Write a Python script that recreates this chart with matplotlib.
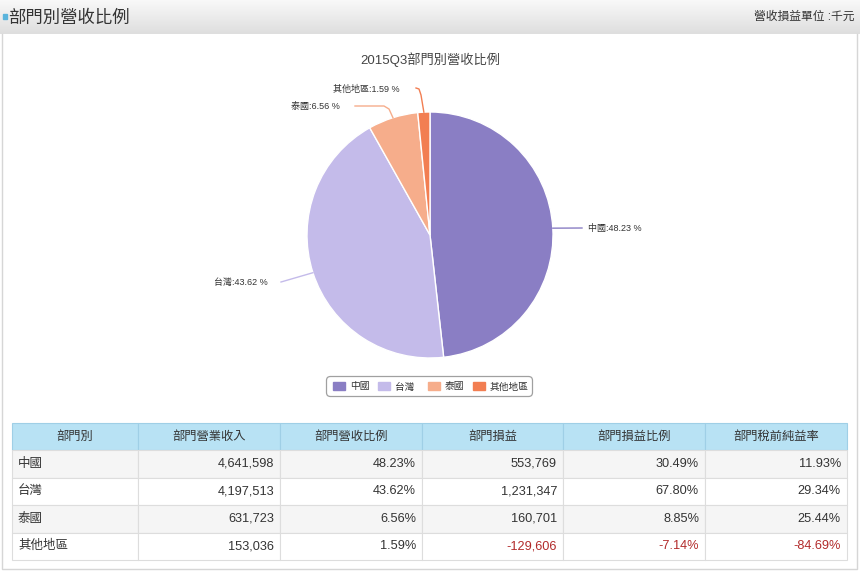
import numpy as np
import matplotlib
matplotlib.use("Agg")
import matplotlib.pyplot as plt
from matplotlib.patches import Rectangle, FancyBboxPatch

plt.rcParams['font.family'] = ['Liberation Sans', 'Noto Sans CJK TC', 'DejaVu Sans']

# ---------------- data ----------------
segments = ['中國', '台灣', '泰國', '其他地區']
revenue = [4641598, 4197513, 631723, 153036]
revenue_pct = [48.23, 43.62, 6.56, 1.59]
profit = [553769, 1231347, 160701, -129606]
profit_pct = [30.49, 67.80, 8.85, -7.14]
pretax_margin = [11.93, 29.34, 25.44, -84.69]
headers = ['部門別', '部門營業收入', '部門營收比例', '部門損益', '部門損益比例', '部門稅前純益率']
page_title = '部門別營收比例'
unit_text = '營收損益單位 :千元'
chart_title = '2015Q3部門別營收比例'

# ---------------- style ----------------
colors = ['#8a7ec4', '#c4bbea', '#f6ad8b', '#f27e52']
W, H = 860, 572
fig = plt.figure(figsize=(W / 100, H / 100), dpi=100)
bg = fig.add_axes([0, 0, 1, 1])
bg.set_xlim(0, W)
bg.set_ylim(H, 0)
bg.axis('off')

# header bar with gradient
grad = np.linspace(0, 1, 64).reshape(-1, 1)
top = np.array([0.975, 0.975, 0.975])
bot = np.array([0.87, 0.87, 0.87])
img = top + (bot - top) * grad[..., None]
bg.imshow(np.repeat(img, 2, axis=1), extent=[0, W, 34, 0], aspect='auto', zorder=0)
bg.add_patch(Rectangle((3, 14), 4, 5, color='#5ab4dc', zorder=2))
bg.text(8.5, 17.5, page_title, fontsize=12.5, color='#333333', va='center', ha='left', zorder=3)
bg.text(855, 16.5, unit_text, fontsize=8.5, color='#333333', va='center', ha='right', zorder=3)

# outer panel border
bg.plot([2, 2, 857, 857], [34, 568.5, 568.5, 34], color='#d6d6d6', lw=1, zorder=1)

# chart title
bg.text(430, 60, chart_title, fontsize=9.5, color='#444444', ha='center', va='center')

# ---------------- pie ----------------
cx, cy, r = 430, 235, 123
pax = fig.add_axes([(cx - r) / W, (H - cy - r) / H, 2 * r / W, 2 * r / H])
wedges, _ = pax.pie(revenue_pct, colors=colors, startangle=90, counterclock=False,
                    radius=1, wedgeprops=dict(edgecolor='white', linewidth=1))
pax.set_xlim(-1, 1)
pax.set_ylim(-1, 1)
pax.set_aspect('equal')
pax.axis('off')

def to_data(px, py):
    return ((px - cx) / r, (cy - py) / r)

# label anchor (pixel) and connector elbow points (pixel), per slice
label_pos = [(588, 228, 'left'), (268, 282, 'right'), (340, 106, 'right'), (400, 89, 'right')]
elbows = [
    [(582, 228)],
    [(281, 282)],
    [(355, 106), (384, 106), (389, 109)],
    [(416, 88), (419, 89), (421, 95)],
]
for i, w in enumerate(wedges):
    mid = np.deg2rad((w.theta1 + w.theta2) / 2)
    ex, ey = np.cos(mid), np.sin(mid)
    pts = [to_data(*p) for p in elbows[i]] + [(ex, ey)]
    xs, ys = zip(*pts)
    pax.plot(xs, ys, color=colors[i], lw=1, clip_on=False, zorder=1)
    lx, ly, ha = label_pos[i]
    bg.text(lx, ly, f'{segments[i]}:{revenue_pct[i]:.2f} %', fontsize=6.5,
            color='#333333', ha=ha, va='center')

# ---------------- legend ----------------
bg.add_patch(FancyBboxPatch((326.5, 376.5), 206, 20, boxstyle='round,pad=0,rounding_size=4',
                            fc='white', ec='#a0a0a0', lw=0.9))
sq_x = [333, 378, 428, 473]
for i, name in enumerate(segments):
    bg.add_patch(Rectangle((sq_x[i], 382), 12, 8, color=colors[i]))
    bg.text(sq_x[i] + 17, 386.5, name, fontsize=7, color='#333333', ha='left', va='center')

# ---------------- table ----------------
col_edges = [12, 138, 280, 422, 563, 705, 847]
row_edges = [423, 450, 477.5, 505, 532.5, 560]
hdr_bg = '#b8e2f4'
hdr_line = '#9fcfe6'
line_c = '#dddddd'
for j, h in enumerate(headers):
    x0, x1 = col_edges[j], col_edges[j + 1]
    bg.add_patch(Rectangle((x0, row_edges[0]), x1 - x0, row_edges[1] - row_edges[0],
                           fc=hdr_bg, ec=hdr_line, lw=0.8))
    bg.text((x0 + x1) / 2, (row_edges[0] + row_edges[1]) / 2, h, fontsize=8.8,
            color='#333333', ha='center', va='center')

def fmt_int(v):
    return f'{v:,}'

def fmt_pct(v):
    return f'{v:.2f}%'

for i, name in enumerate(segments):
    y0, y1 = row_edges[i + 1], row_edges[i + 2]
    fc = '#f5f5f5' if i % 2 == 0 else 'white'
    for j in range(6):
        x0, x1 = col_edges[j], col_edges[j + 1]
        bg.add_patch(Rectangle((x0, y0), x1 - x0, y1 - y0, fc=fc, ec=line_c, lw=0.8))
    yc = (y0 + y1) / 2
    cells = [fmt_int(revenue[i]), fmt_pct(revenue_pct[i]), fmt_int(profit[i]),
             fmt_pct(profit_pct[i]), fmt_pct(pretax_margin[i])]
    neg = [False, False, profit[i] < 0, profit_pct[i] < 0, pretax_margin[i] < 0]
    bg.text(col_edges[0] + 6, yc, name, fontsize=9, color='#333333', ha='left', va='center')
    for j, txt in enumerate(cells):
        bg.text(col_edges[j + 2] - 6, yc, txt, fontsize=9.2,
                color='#b22a2a' if neg[j] else '#333333', ha='right', va='center')

fig.savefig('out.png', dpi=100)
